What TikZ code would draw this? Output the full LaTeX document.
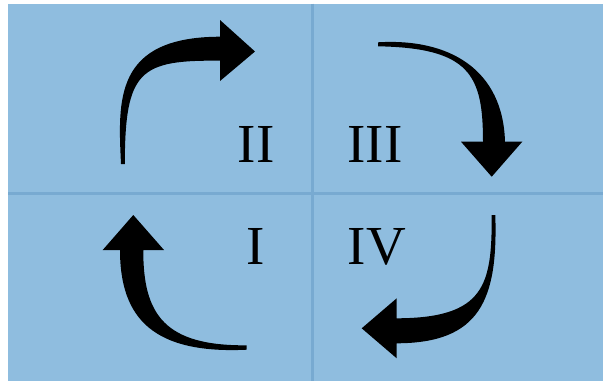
\documentclass[tikz,border=0pt]{standalone}
\usepackage{fontspec}
\setmainfont{Liberation Serif}
\definecolor{panelblue}{RGB}{143,189,223}
\definecolor{gridblue}{RGB}{120,170,209}
\begin{document}
\begin{tikzpicture}[x=1pt,y=-1pt,
  numeral/.style={anchor=base,inner sep=0pt,font=\fontsize{55}{60}\selectfont},
  bentarrow/.style={fill=black,draw=none}]
\useasboundingbox (0,0) rectangle (603,381);
\fill[white] (0,0) rectangle (603,381);
\fill[panelblue] (8,3.5) rectangle (603,381);
\draw[gridblue,line width=3pt] (312,3.5) -- (312,381);
\draw[gridblue,line width=3pt] (8,193) -- (603,193);
% labels
\node[numeral] (n2) at (256,162) {II};
\node[numeral] (n3) at (375,162) {III};
\node[numeral] (n1) at (256,264) {I};
\node[numeral] (n4) at (377,264) {IV};
% arrow II (up then right)
\fill[bentarrow] (121,164) .. controls (118,100) and (114,37) .. (220,36.7)
  -- (220,20) -- (255,51.5) -- (220,81) -- (220,60.7)
  .. controls (140,60) and (125,70) .. (124.8,164) -- cycle;
% arrow III (right then down)
\fill[bentarrow] (378,42.3) .. controls (450,38) and (503,70) .. (505,141.7)
  -- (522.3,141.7) -- (491.7,176.7) -- (461,141.7) -- (483,141.7)
  .. controls (483,75) and (470,48) .. (378,46.3) -- cycle;
% arrow IV (down then left)
\fill[bentarrow] (495.3,215) .. controls (498,300) and (480,343) .. (396.7,343.3)
  -- (396.7,358.3) -- (361.7,328.3) -- (396.7,298.3) -- (396.7,318.3)
  .. controls (485,318) and (492,285) .. (491.7,215) -- cycle;
% arrow I (left then up)
\fill[bentarrow] (246.7,349.7) .. controls (155,354) and (120,320) .. (120,250)
  -- (102.7,250) -- (133.3,215) -- (164,250) -- (143.3,250)
  .. controls (143,315) and (165,346) .. (246.7,345.3) -- cycle;
\end{tikzpicture}
\end{document}
